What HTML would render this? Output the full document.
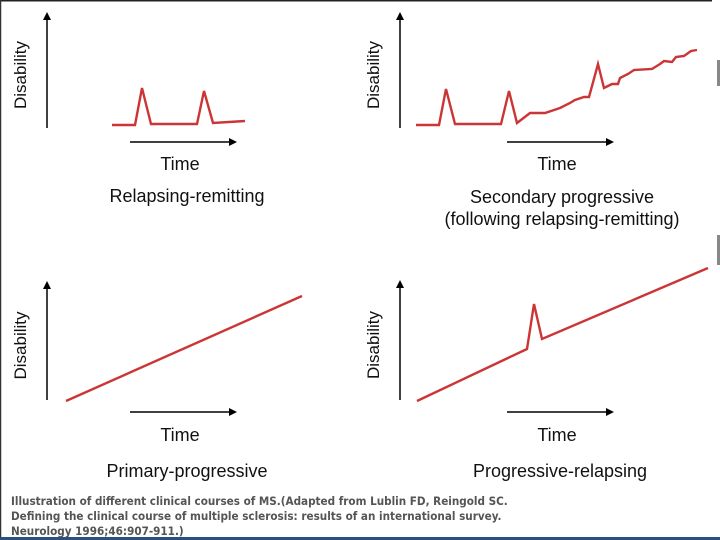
<!DOCTYPE html>
<html><head><meta charset="utf-8"><style>
html,body{margin:0;padding:0;background:#fff;}
#wrap{position:relative;width:720px;height:540px;overflow:hidden;background:#fff;}
svg{position:absolute;left:0;top:0;}
.cap{position:absolute;left:11px;font:bold 11.6px "DejaVu Sans Condensed","DejaVu Sans","Liberation Sans",sans-serif;color:#555;letter-spacing:0px;white-space:nowrap;}
</style></head><body>
<div id="wrap">
<svg id="chart" width="720" height="540">
<defs><marker id="ah" markerWidth="8" markerHeight="8" refX="6" refY="4" orient="auto" markerUnits="userSpaceOnUse"><path d="M0,0 L8,4 L0,8 z" fill="#000"/></marker></defs>
<line x1="0" y1="0.5" x2="712" y2="0.5" stroke="#222" stroke-width="2"/>
<line x1="0.5" y1="0" x2="0.5" y2="540" stroke="#333" stroke-width="1.5"/>
<rect x="717" y="60" width="3" height="26" fill="#888"/>
<rect x="717" y="235" width="3" height="30" fill="#888"/>
<rect x="0" y="537" width="720" height="3" fill="#2d4f80"/>
</svg>
<div class="cap" style="top:494px">Illustration of different clinical courses of MS.(Adapted from Lublin FD, Reingold SC.</div>
<div class="cap" style="top:509px">Defining the clinical course of multiple sclerosis: results of an international survey.</div>
<div class="cap" style="top:524px">Neurology 1996;46:907-911.)</div>
</div>
<script>
// Data: time offsets and disability levels per panel
const rrTime = [0,23,30,39,85,92,101,133];
const rrDisability = [0,0,37,1,1,34,2,4];
const spTime = [0,23,30,39,85,93,101,114,129,144,154,159,168,173,182,188,196,202,204,212,218,236,244,248,256,260,268,275,281];
const spDisability = [0,0,36,1,1,34,2,12,12,17,22,25,28,28,61,37,41,41,47,51,55,56,61,64,63,68,69,74,75];
const ppTime = [0,236];
const ppDisability = [0,105];
const prTime = [0,110,117,125,291];
const prDisability = [0,52,97,62,133];
const titles = ["Relapsing-remitting","Secondary progressive","Primary-progressive","Progressive-relapsing"];

const svg = document.getElementById('chart');
const NS = 'http://www.w3.org/2000/svg';
function mk(tag, attrs){const e=document.createElementNS(NS,tag);for(const k in attrs)e.setAttribute(k,attrs[k]);svg.appendChild(e);return e;}

const panels = [
 {t:rrTime,d:rrDisability,ox:112,oy:125,ax:47,ayTop:14,ayBot:128,xa0:130,xa1:235,xay:142,tx:180,ty:170,title:[titles[0]],tty:202,tcx:187,name:'relapsing-remitting'},
 {t:spTime,d:spDisability,ox:416,oy:125,ax:400,ayTop:14,ayBot:128,xa0:507,xa1:612,xay:142,tx:557,ty:170,title:[titles[1],"(following relapsing-remitting)"],tty:203,tcx:562,name:'secondary-progressive'},
 {t:ppTime,d:ppDisability,ox:66,oy:401,ax:47,ayTop:283,ayBot:400,xa0:130,xa1:235,xay:412,tx:180,ty:441,title:[titles[2]],tty:477,tcx:187,name:'primary-progressive'},
 {t:prTime,d:prDisability,ox:417,oy:401,ax:400,ayTop:282,ayBot:400,xa0:507,xa1:612,xay:412,tx:557,ty:441,title:[titles[3]],tty:477,tcx:560,name:'progressive-relapsing'}
];
panels.forEach(p=>{
  const xs = v => p.ox + v;
  const ys = v => p.oy - v;
  let e;
  e=mk('line',{x1:p.ax,y1:p.ayBot,x2:p.ax,y2:p.ayTop,stroke:'#000','stroke-width':1.5,'marker-end':'url(#ah)'});
  
  
  e=mk('line',{x1:p.xa0,y1:p.xay,x2:p.xa1,y2:p.xay,stroke:'#000','stroke-width':1.5,'marker-end':'url(#ah)'});
  
  
  e=mk('text',{x:0,y:0,transform:`translate(${p.ax-21},${(p.ayTop+p.ayBot)/2+4}) rotate(-90)`,'text-anchor':'middle','font-family':'Liberation Sans, sans-serif','font-size':17,fill:'#111'});
  e.textContent='Disability';
  
  
  e=mk('text',{x:p.tx,y:p.ty,'text-anchor':'middle','font-family':'Liberation Sans, sans-serif','font-size':18,fill:'#111'});
  e.textContent='Time';
  
  
  p.title.forEach((s,i)=>{
    e=mk('text',{x:p.tcx,y:p.tty+i*22,'text-anchor':'middle','font-family':'Liberation Sans, sans-serif','font-size':18,fill:'#111'});
    e.textContent=s;
    
    
  });
  const pts = p.t.map((v,i)=>xs(v)+','+ys(p.d[i])).join(' ');
  e=mk('polyline',{points:pts,fill:'none',stroke:'#cc3535','stroke-width':2.4,'stroke-linejoin':'miter'});
  
  
});
</script>
</body></html>
